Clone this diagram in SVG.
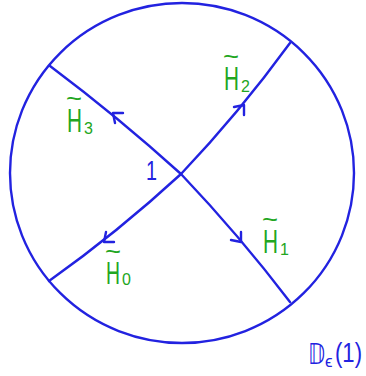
<svg xmlns="http://www.w3.org/2000/svg" width="366" height="376" viewBox="0 0 366 376">
<style>
.ln{fill:none;stroke:#2222e0;stroke-width:2.4;stroke-linecap:round;stroke-linejoin:round}
.g{fill:#22a622;font-family:"Liberation Sans",Arial,sans-serif}
.b{fill:#2222e0;font-family:"Liberation Sans",Arial,sans-serif}
</style>
<rect width="366" height="376" fill="#ffffff"/>
<g id="disk">
<ellipse cx="182" cy="173" rx="172" ry="170" class="ln"/>
</g>
<g id="connectors">
<path class="ln" d="M181,174 Q118,117 50,66"/>
<path class="ln" d="M181,174 Q239,113 290,43"/>
<path class="ln" d="M181,174 Q239,235 290,302"/>
<path class="ln" d="M181,174 Q118,232 49,281"/>
<path class="ln" d="M123,113 L113,113 L115,123"/>
<path class="ln" d="M244,115 L244,105 L234,107"/>
<path class="ln" d="M231,240 L241,242 L241,232"/>
<path class="ln" d="M106,232 L104,242 L114,242"/>
</g>
<g id="H0">
<text class="g" x="106" y="284" font-size="31" textLength="14" lengthAdjust="spacingAndGlyphs">H</text>
<text class="g" x="105" y="260" font-size="26" textLength="16" lengthAdjust="spacingAndGlyphs">~</text>
<text class="g" x="122" y="285" font-size="16">0</text>
</g>
<g id="H1">
<text class="g" x="263" y="253" font-size="34" textLength="15" lengthAdjust="spacingAndGlyphs">H</text>
<text class="g" x="262" y="228" font-size="26" textLength="16" lengthAdjust="spacingAndGlyphs">~</text>
<text class="g" x="280" y="255" font-size="16">1</text>
</g>
<g id="H2">
<text class="g" x="224" y="90" font-size="34" textLength="15" lengthAdjust="spacingAndGlyphs">H</text>
<text class="g" x="223" y="65" font-size="26" textLength="16" lengthAdjust="spacingAndGlyphs">~</text>
<text class="g" x="241" y="92" font-size="16">2</text>
</g>
<g id="H3">
<text class="g" x="67" y="132" font-size="34" textLength="15" lengthAdjust="spacingAndGlyphs">H</text>
<text class="g" x="66" y="107" font-size="26" textLength="16" lengthAdjust="spacingAndGlyphs">~</text>
<text class="g" x="84" y="134" font-size="16">3</text>
</g>
<g id="one">
<text class="b" x="146" y="180" font-size="27" textLength="11" lengthAdjust="spacingAndGlyphs">1</text>
</g>
<g id="D">
<text x="308" y="364" font-size="29" fill="#2222e0" font-family="'DejaVu Sans',sans-serif" textLength="17" lengthAdjust="spacingAndGlyphs">𝔻</text>
<text class="b" x="325" y="367" font-size="17">ϵ</text>
<text class="b" x="335" y="362" font-size="27" textLength="27" lengthAdjust="spacingAndGlyphs">(1)</text>
</g>
</svg>
